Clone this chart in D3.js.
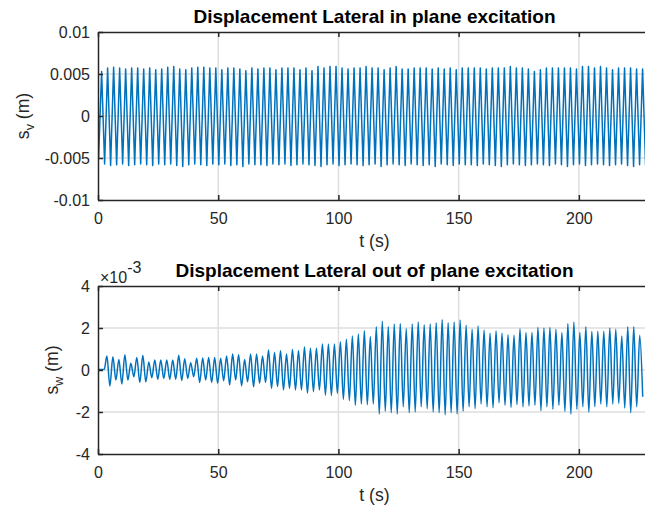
<!DOCTYPE html>
<html lang="en">
<head>
<meta charset="utf-8">
<title>Displacement Lateral</title>
<script src="https://cdn.jsdelivr.net/npm/d3@7"></script>
<style>
  body { margin: 0; background: #fff; }
  svg { display: block; font-family: "Liberation Sans", Arial, Helvetica, sans-serif; }
  .axis .domain { stroke: #262626; stroke-width: 1.5; }
  .axis .tick line { stroke: #262626; stroke-width: 1.5; }
  .axis .tick text { fill: #262626; font-size: 16px; }
  .grid line { stroke: #dedede; stroke-width: 1.5; }
  .title { font-weight: bold; font-size: 19px; fill: #000; }
  .label { font-size: 17.6px; fill: #262626; }
</style>
</head>
<body>
<svg id="fig" width="645" height="511"></svg>
<script>

// shared time axis
const tLimits = [0, 230];
const tTicks = [0, 50, 100, 150, 200];

// in plane response (m): starting value, then alternating troughs / peaks
const svTicks = [-0.01, -0.005, 0, 0.005, 0.01];
const svLead = [[0, 0.0017]];
const svPeriod = 2.5;
const svFirstPeak = 1.5;
const svFirstTrough = 0.25;
const svPeaks = [
  0.0053, 0.0057, 0.0058, 0.0057, 0.0056, 0.0057, 0.0057, 0.0056, 0.0057, 0.0055,
  0.0056, 0.0058, 0.0059, 0.0056, 0.0055, 0.0057, 0.0058, 0.0058, 0.0057, 0.0057,
  0.0055, 0.0057, 0.0057, 0.0056, 0.0054, 0.0057, 0.0056, 0.0057, 0.0057, 0.0055,
  0.0057, 0.0057, 0.0057, 0.0055, 0.0057, 0.0054, 0.0059,
  0.0057, 0.0059, 0.0059, 0.0057, 0.0056, 0.0057, 0.0057, 0.0059, 0.0057, 0.0057,
  0.0055, 0.0057, 0.0059, 0.0056, 0.0056, 0.0057, 0.0057, 0.0057, 0.0056, 0.0057,
  0.0056, 0.0057, 0.0055, 0.0057, 0.0057, 0.0057, 0.0057, 0.0056, 0.0057, 0.0057,
  0.0057, 0.0059, 0.0057, 0.0057, 0.0056, 0.0053, 0.0055, 0.0057, 0.0057, 0.0057,
  0.0057, 0.0057, 0.0056, 0.0059, 0.0059, 0.0057, 0.0059, 0.0057, 0.0055, 0.0057,
  0.0057, 0.0057, 0.0056, 0.0056
];
const svTroughs = [
  -0.0049, -0.0057, -0.0059, -0.0058, -0.0057, -0.0059, -0.0058, -0.0057, -0.0058, -0.0059,
  -0.0057, -0.0058, -0.0057, -0.0059, -0.0060, -0.0058, -0.0057, -0.0058, -0.0059, -0.0057,
  -0.0058, -0.0057, -0.0059, -0.0058, -0.0060, -0.0057, -0.0058, -0.0058, -0.0059, -0.0057,
  -0.0058, -0.0057, -0.0059, -0.0058, -0.0057, -0.0058, -0.0059, -0.0060, -0.0058, -0.0057,
  -0.0059, -0.0058, -0.0057, -0.0058, -0.0059, -0.0058, -0.0057, -0.0060, -0.0058, -0.0057,
  -0.0058, -0.0059, -0.0057, -0.0058, -0.0059, -0.0058, -0.0060, -0.0057, -0.0058, -0.0059,
  -0.0057, -0.0058, -0.0058, -0.0059, -0.0057, -0.0058, -0.0059, -0.0060, -0.0058, -0.0057,
  -0.0058, -0.0059, -0.0058, -0.0057, -0.0058, -0.0059, -0.0057, -0.0058, -0.0060, -0.0058,
  -0.0057, -0.0059, -0.0058, -0.0057, -0.0058, -0.0059, -0.0058, -0.0057, -0.0059, -0.0060,
  -0.0058, -0.0059
];

// out of plane response (x 10^-3 m)
const swTicks = [-4, -2, 0, 2, 4];
const swLead = [[0, 0.2], [0.3, 0.02], [2.6, 0.03]];
const swPeriod = 2.49;
const swFirstPeak = 3.7;
const swFirstTrough = 4.945;
const swPeaks = [
  0.67, 0.63, 0.50, 0.73, 0.32, 0.60, 0.70, 0.38, 0.48, 0.48,
  0.48, 0.48, 0.70, 0.54, 0.35, 0.56, 0.57, 0.60, 0.60, 0.56,
  0.67, 0.76, 0.73, 0.50, 0.76, 0.76, 0.67, 0.95, 0.83, 0.92,
  0.76, 0.98, 0.92, 1.10, 1.03, 1.03,
  1.24, 1.24, 1.24, 1.35, 1.46, 1.62, 1.71, 1.87, 1.59, 2.06,
  2.32, 2.06, 2.19, 2.22, 1.97, 2.19, 2.29, 2.16, 2.19, 2.25,
  2.41, 2.25, 2.29, 2.38, 2.13, 1.94, 2.10, 1.90, 1.75, 1.87,
  1.75, 1.68, 1.65, 1.97, 1.78, 1.78, 2.03, 2.00, 2.03, 1.94,
  1.78, 2.22, 2.29, 1.78, 2.06, 1.84, 1.84, 1.84, 2.00, 1.94,
  1.62, 2.06, 2.06, 1.65
];
const swTroughs = [
  -0.76, -0.48, -0.67, -0.48, -0.32, -0.60, -0.57, -0.37, -0.44, -0.40,
  -0.44, -0.44, -0.50, -0.40, -0.32, -0.60, -0.48, -0.60, -0.63, -0.51,
  -0.71, -0.48, -0.76, -0.56, -0.80, -0.63, -0.60, -0.87, -0.79, -0.95,
  -0.87, -0.95, -0.95, -1.10, -1.03, -0.95,
  -1.20, -1.21, -1.11, -1.40, -1.46, -1.68, -1.62, -1.65, -1.62, -2.10,
  -1.97, -2.03, -2.10, -1.75, -2.03, -2.00, -1.75, -1.84, -2.00, -2.03,
  -2.13, -2.03, -2.10, -1.97, -1.75, -1.84, -1.62, -1.75, -1.80, -1.56,
  -1.68, -1.78, -1.65, -1.75, -1.71, -1.68, -1.94, -1.75, -1.87, -1.68,
  -1.97, -2.10, -1.87, -1.75, -2.00, -1.75, -1.62, -1.75, -1.62, -1.59,
  -1.81, -2.03, -1.75, -1.27
];

// merge the extremes into one time-ordered trace
function trace(lead, peakT0, troughT0, period, peaks, troughs) {
  const ext = [];
  peaks.forEach((v, k) => ext.push({t: peakT0 + k * period, v: v}));
  troughs.forEach((v, k) => ext.push({t: troughT0 + k * period, v: v}));
  ext.sort((a, b) => a.t - b.t);
  return lead.map(d => ({t: d[0], v: d[1]})).concat(ext);
}

const svg = d3.select('#fig');
const left = 98, right = 651;

const x = d3.scaleLinear().domain(tLimits).range([left, right]);

function panel(opts) {
  const y = d3.scaleLinear().domain(opts.yDomain).range([opts.bottom, opts.top]);
  const g = svg.append('g');

  // grid
  const grid = g.append('g').attr('class', 'grid');
  grid.selectAll('line.gx').data(tTicks.filter(t => t > tLimits[0]))
    .enter().append('line')
    .attr('x1', d => x(d)).attr('x2', d => x(d))
    .attr('y1', opts.top).attr('y2', opts.bottom);
  grid.selectAll('line.gy').data(opts.yTicks.slice(1, -1))
    .enter().append('line')
    .attr('x1', left).attr('x2', right)
    .attr('y1', d => y(d)).attr('y2', d => y(d));

  // signal
  g.append('clipPath').attr('id', opts.id + '-clip')
    .append('rect')
    .attr('x', left).attr('y', opts.top)
    .attr('width', right - left).attr('height', opts.bottom - opts.top);

  const line = d3.line()
    .x(d => x(d.t))
    .y(d => y(d.v))
    .curve(opts.curve);

  g.append('path')
    .datum(opts.data)
    .attr('clip-path', 'url(#' + opts.id + '-clip)')
    .attr('fill', 'none')
    .attr('stroke', '#0072BD')
    .attr('stroke-width', 1.5)
    .attr('stroke-linejoin', 'round')
    .attr('d', line);

  // axes, ticks pointing inwards
  g.append('g').attr('class', 'axis')
    .attr('transform', 'translate(0,' + opts.bottom + ')')
    .call(d3.axisBottom(x).tickValues(tTicks).tickSizeInner(-5).tickSizeOuter(0)
      .tickPadding(12.5).tickFormat(d3.format('d')));
  g.append('g').attr('class', 'axis')
    .attr('transform', 'translate(0,' + opts.top + ')')
    .call(d3.axisTop(x).tickValues(tTicks).tickSizeInner(-5).tickSizeOuter(0)
      .tickFormat(''));
  g.append('g').attr('class', 'axis')
    .attr('transform', 'translate(' + left + ',0)')
    .call(d3.axisLeft(y).tickValues(opts.yTicks).tickSizeInner(-5).tickSizeOuter(0)
      .tickPadding(8).tickFormat(d => String(d)));

  // title and labels
  g.append('text').attr('class', 'title')
    .attr('x', (left + right) / 2).attr('y', opts.top - 9.5)
    .attr('text-anchor', 'middle')
    .text(opts.title);

  g.append('text').attr('class', 'label')
    .attr('x', (left + right) / 2).attr('y', opts.bottom + 46.5)
    .attr('text-anchor', 'middle')
    .text('t (s)');

  const yl = g.append('text').attr('class', 'label')
    .attr('transform', 'translate(' + opts.yLabelX + ',' + (opts.top + opts.bottom) / 2 + ') rotate(-90)')
    .attr('text-anchor', 'middle');
  yl.append('tspan').text('s');
  yl.append('tspan').attr('dy', 5).attr('font-size', '12.5px').text(opts.sub);
  yl.append('tspan').attr('dy', -5).text(' (m)');

  return g;
}

panel({
  id: 'sv', top: 32, bottom: 200,
  yDomain: [-0.01, 0.01], yTicks: svTicks,
  data: trace(svLead, svFirstPeak, svFirstTrough, svPeriod, svPeaks, svTroughs),
  curve: d3.curveLinear,
  title: 'Displacement Lateral in plane excitation',
  sub: 'v', yLabelX: 28.5
});

const bottomPanel = panel({
  id: 'sw', top: 286, bottom: 454,
  yDomain: [-4, 4], yTicks: swTicks,
  data: trace(swLead, swFirstPeak, swFirstTrough, swPeriod, swPeaks, swTroughs),
  curve: d3.curveMonotoneX,
  title: 'Displacement Lateral out of plane excitation',
  sub: 'w', yLabelX: 58
});

// exponent marker above the y axis
const ex = bottomPanel.append('text')
  .attr('x', 100).attr('y', 283)
  .attr('font-size', '16px').attr('fill', '#262626');
ex.append('tspan').text('\u00d710');
ex.append('tspan').attr('dy', -10).text('-3');

</script>
</body>
</html>
